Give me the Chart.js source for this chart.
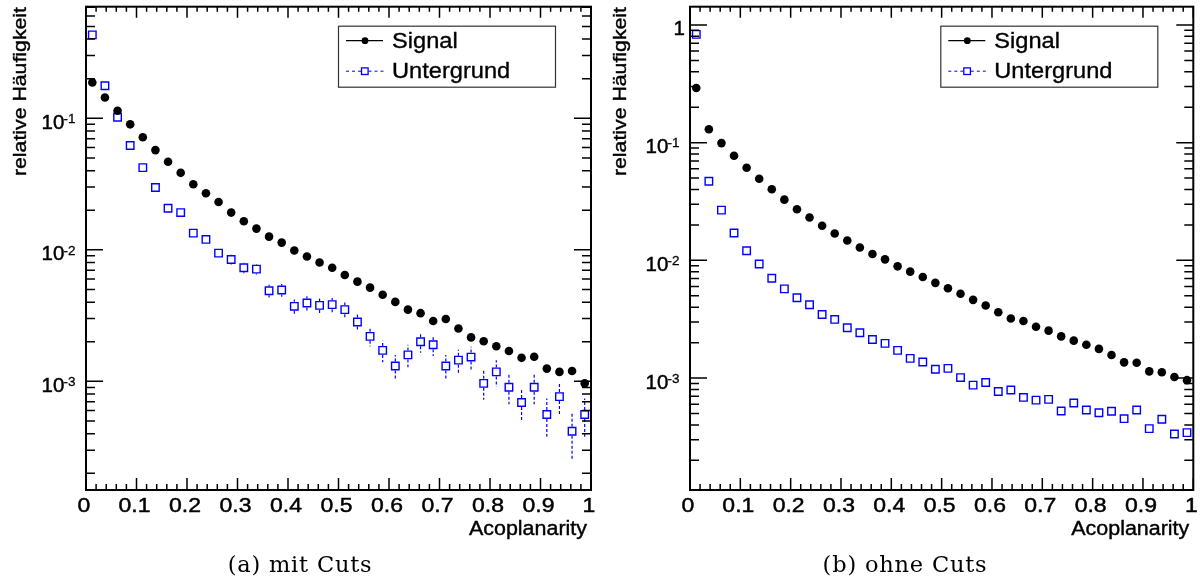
<!DOCTYPE html>
<html>
<head>
<meta charset="utf-8">
<title>Acoplanarity</title>
<script src="https://cdn.jsdelivr.net/npm/chart.js@4.4.1/dist/chart.umd.min.js"></script>
<style>
  body { margin: 0; background: #fff; }
  #wrap { position: relative; width: 1200px; height: 585px; }
  canvas { position: absolute; top: 0; }
  #plotCuts { left: 0; }
  #plotAll { left: 600px; }
</style>
</head>
<body>
<div id="wrap">
  <canvas id="plotCuts" width="600" height="585"></canvas>
  <canvas id="plotAll" width="600" height="585"></canvas>
</div>
<script>
// bin centres, 40 bins between 0 and 1
const binCenters = [
  0.0125, 0.0375, 0.0625, 0.0875, 0.1125, 0.1375, 0.1625, 0.1875, 0.2125, 0.2375,
  0.2625, 0.2875, 0.3125, 0.3375, 0.3625, 0.3875, 0.4125, 0.4375, 0.4625, 0.4875,
  0.5125, 0.5375, 0.5625, 0.5875, 0.6125, 0.6375, 0.6625, 0.6875, 0.7125, 0.7375,
  0.7625, 0.7875, 0.8125, 0.8375, 0.8625, 0.8875, 0.9125, 0.9375, 0.9625, 0.9875
];

// (a) mit Cuts
const signalCuts = [
  0.187, 0.144, 0.114, 0.090, 0.0718, 0.0573, 0.0467, 0.0385, 0.0315, 0.0269,
  0.0231, 0.0192, 0.0165, 0.0145, 0.0126, 0.01135, 0.00988, 0.00889, 0.00801, 0.00731,
  0.00643, 0.00573, 0.00516, 0.00456, 0.00402, 0.00351, 0.00330, 0.00288, 0.00298, 0.00252,
  0.00216, 0.00202, 0.00185, 0.00170, 0.00151, 0.00154, 0.00125, 0.00118, 0.00120, 0.000966
];
const backgroundCuts = [
  0.431, 0.177, 0.102, 0.0621, 0.0422, 0.0298, 0.0207, 0.0192, 0.0134, 0.0120,
  0.00944, 0.00845, 0.00731, 0.00714, 0.00489, 0.00495, 0.00372, 0.00394, 0.00378, 0.00383,
  0.00351, 0.00283, 0.00220, 0.00172, 0.00131, 0.00159, 0.00200, 0.00190, 0.00131, 0.00145,
  0.00153, 0.000966, 0.00118, 0.000901, 0.000690, 0.000901, 0.000560, 0.000766, 0.000418, 0.000560
];
const backgroundCutsErr = [
  0.0051, 0.0033, 0.0025, 0.0019, 0.0016, 0.0013, 0.0011, 0.0011, 0.0009, 0.00085,
  0.00075, 0.00071, 0.00066, 0.00065, 0.00054, 0.00055, 0.00047, 0.00049, 0.00048, 0.00048,
  0.00046, 0.00041, 0.00036, 0.00032, 0.00028, 0.00031, 0.00035, 0.00034, 0.00028, 0.00029,
  0.00030, 0.00024, 0.00027, 0.00023, 0.00020, 0.00023, 0.00018, 0.00021, 0.00016, 0.00018
];

// (b) ohne Cuts
const signalAll = [
  0.291, 0.130, 0.0991, 0.0773, 0.0612, 0.0494, 0.0402, 0.0328, 0.0272, 0.0231,
  0.0197, 0.0169, 0.01476, 0.01288, 0.01133, 0.01020, 0.00890, 0.00802, 0.00723, 0.00644,
  0.00580, 0.00520, 0.00462, 0.00414, 0.00363, 0.00321, 0.00305, 0.00273, 0.00253, 0.00226,
  0.00208, 0.00192, 0.00177, 0.00157, 0.00136, 0.00135, 0.00114, 0.00112, 0.00102, 0.00096
];
const backgroundAll = [
  0.832, 0.0470, 0.0267, 0.0171, 0.01208, 0.00932, 0.00704, 0.00573, 0.00481, 0.00420,
  0.00347, 0.00315, 0.00268, 0.00243, 0.00213, 0.00197, 0.00172, 0.00147, 0.00137, 0.00119,
  0.00121, 0.00101, 0.000871, 0.000918, 0.000770, 0.000791, 0.000685, 0.000650, 0.000659, 0.000525,
  0.000614, 0.000535, 0.000508, 0.000522, 0.000452, 0.000535, 0.000372, 0.000447, 0.000335, 0.000344
];

// axis labels
const xTickValues = [0, 0.1, 0.2, 0.3, 0.4, 0.5, 0.6, 0.7, 0.8, 0.9, 1];
const xTickLabels = ['0', '0.1', '0.2', '0.3', '0.4', '0.5', '0.6', '0.7', '0.8', '0.9', '1'];
const yDecadesCuts = [0.1, 0.01, 0.001];
const yDecadesAll = [1, 0.1, 0.01, 0.001];
const seriesNames = ['Signal', 'Untergrund'];
const xTitle = 'Acoplanarity';
const yTitle = 'relative Häufigkeit';

const SANS = '"Liberation Sans", Arial, sans-serif';
const SERIF = '"DejaVu Serif", serif';
const BLUE = '#0000ff';

// text with optional horizontal stretch (the ROOT fonts run wide) and a
// thin outline to give the glyphs a little more weight
function drawText(ctx, text, x, y, font, align, stretch, spacing, weight) {
  ctx.save();
  ctx.font = font;
  ctx.textAlign = 'left';
  ctx.textBaseline = 'alphabetic';
  ctx.letterSpacing = (spacing || 0) + 'px';
  const w = ctx.measureText(text).width * stretch;
  let x0 = x;
  if (align === 'center') x0 = x - w / 2;
  if (align === 'right') x0 = x - w;
  ctx.translate(x0, y);
  ctx.scale(stretch, 1);
  ctx.fillText(text, 0, 0);
  if (weight) {
    ctx.lineWidth = weight;
    ctx.strokeStyle = ctx.fillStyle;
    ctx.strokeText(text, 0, 0);
  }
  ctx.restore();
}

const rootFrame = {
  id: 'rootFrame',
  beforeDatasetsDraw(chart, args, opts) {
    // dashed statistical error bars, left out inside the marker
    if (!opts.errors) return;
    const { ctx, chartArea: a, scales: { y } } = chart;
    const meta = chart.getDatasetMeta(1);
    const vals = chart.data.datasets[1].data;
    ctx.save();
    ctx.strokeStyle = BLUE;
    ctx.lineWidth = 1.2;
    ctx.setLineDash([3, 2]);
    ctx.beginPath();
    meta.data.forEach((pt, i) => {
      const v = vals[i].y, e = opts.errors[i];
      const yTop = Math.max(a.top, y.getPixelForValue(v + e));
      const yBot = Math.min(a.bottom, y.getPixelForValue(v - e));
      const half = 4.5;
      if (yTop < pt.y - half) { ctx.moveTo(pt.x, pt.y - half); ctx.lineTo(pt.x, yTop); }
      if (yBot > pt.y + half) { ctx.moveTo(pt.x, pt.y + half); ctx.lineTo(pt.x, yBot); }
    });
    ctx.stroke();
    ctx.restore();
  },
  afterDatasetsDraw(chart, args, opts) {
    const { ctx, chartArea: a, scales: { x, y } } = chart;
    ctx.save();
    ctx.strokeStyle = '#000';
    ctx.fillStyle = '#000';

    // tick marks pointing inwards on all four sides
    ctx.lineWidth = 1.5;
    ctx.beginPath();
    for (let i = 0; i <= 50; i++) {
      const px = x.getPixelForValue(i / 50);
      const major = i % 5 === 0;
      ctx.moveTo(px, a.bottom); ctx.lineTo(px, a.bottom - (major ? 12 : 6));
      ctx.moveTo(px, a.top); ctx.lineTo(px, a.top + (major ? 11 : 5));
    }
    for (let e = -5; e <= 1; e++) {
      for (let m = 1; m <= 9; m++) {
        const v = m * Math.pow(10, e);
        if (v < y.min || v > y.max) continue;
        const py = y.getPixelForValue(v);
        const len = m === 1 ? 17 : 9;
        ctx.moveTo(a.left, py); ctx.lineTo(a.left + len, py);
        ctx.moveTo(a.right, py); ctx.lineTo(a.right - len, py);
      }
    }
    ctx.stroke();

    ctx.lineWidth = 2;
    ctx.strokeRect(a.left, a.top, a.right - a.left, a.bottom - a.top);

    // x tick labels and title
    xTickValues.forEach((v, i) => {
      drawText(ctx, xTickLabels[i], x.getPixelForValue(v) - 2, a.bottom + 22,
        '19.5px ' + SANS, 'center', 1.18, 0, 0.45);
    });
    drawText(ctx, xTitle, a.right - 4, a.bottom + 44.5, '19.5px ' + SANS, 'right', 1.1, 0, 0.4);

    // y tick labels as powers of ten
    opts.decades.forEach(v => {
      const py = y.getPixelForValue(v);
      const exp = Math.round(Math.log10(v));
      if (exp === 0) {
        drawText(ctx, '1', a.left - 5, py + 10.3, '20.5px ' + SANS, 'right', 1, 0, 0.45);
      } else {
        drawText(ctx, '10', a.left - 44.5, py + 10.5, '20.5px ' + SANS, 'left', 1, 0, 0.45);
        drawText(ctx, String(exp), a.left - 22.5, py + 4.7, '13.5px ' + SANS, 'left', 1, 0, 0.3);
      }
    });

    // rotated y title, ending near the top of the frame
    ctx.save();
    ctx.translate(26, 7);
    ctx.rotate(-Math.PI / 2);
    drawText(ctx, yTitle, 0, 0, '18.5px ' + SANS, 'right', 1.15, 0, 0.4);
    ctx.restore();

    // legend box
    const lx = a.right - 253, ly = a.top + 19, lw = 217, lh = 61;
    ctx.fillStyle = '#fff';
    ctx.fillRect(lx, ly, lw, lh);
    ctx.strokeStyle = '#333';
    ctx.lineWidth = 1.2;
    ctx.strokeRect(lx + 0.5, ly + 0.5, lw, lh);

    ctx.strokeStyle = '#000';
    ctx.fillStyle = '#000';
    ctx.lineWidth = 1.3;
    ctx.beginPath();
    ctx.moveTo(lx + 8, ly + 15); ctx.lineTo(lx + 45, ly + 15);
    ctx.stroke();
    ctx.beginPath();
    ctx.arc(lx + 27, ly + 15, 3.4, 0, Math.PI * 2);
    ctx.fill();
    drawText(ctx, chart.data.datasets[0].label, lx + 54, ly + 21.8, '22.5px ' + SANS, 'left', 1.05, 0, 0.35);

    const uy = ly + 45.5;
    ctx.strokeStyle = BLUE;
    ctx.lineWidth = 1;
    ctx.setLineDash([3, 3]);
    ctx.beginPath();
    ctx.moveTo(lx + 8, uy); ctx.lineTo(lx + 23.5, uy);
    ctx.moveTo(lx + 30.5, uy); ctx.lineTo(lx + 46, uy);
    ctx.stroke();
    ctx.setLineDash([]);
    ctx.lineWidth = 1.3;
    ctx.strokeRect(lx + 23.5, uy - 3.3, 6.6, 6.6);
    ctx.fillStyle = '#000';
    drawText(ctx, chart.data.datasets[1].label, lx + 54, ly + 52.3, '22.5px ' + SANS, 'left', 1.05, 0, 0.35);

    // sub-figure caption
    drawText(ctx, opts.caption, opts.captionX, 572, '22.5px ' + SERIF, 'center', 1, 0.8);
    ctx.restore();
  }
};

function makeChart(id, sig, bkg, opts) {
  const toPoints = arr => binCenters.map((x, i) => ({ x: x, y: arr[i] }));
  return new Chart(document.getElementById(id), {
    type: 'scatter',
    data: {
      datasets: [
        {
          label: seriesNames[0],
          data: toPoints(sig),
          pointStyle: 'circle',
          pointRadius: 4.3,
          backgroundColor: '#000',
          borderWidth: 0,
          clip: false
        },
        {
          label: seriesNames[1],
          data: toPoints(bkg),
          pointStyle: 'rect',
          pointRadius: 5.3,
          backgroundColor: 'rgba(255,255,255,0)',
          borderColor: BLUE,
          borderWidth: 1.4,
          clip: false
        }
      ]
    },
    options: {
      responsive: false,
      animation: false,
      events: [],
      layout: { padding: opts.padding },
      scales: {
        x: { type: 'linear', min: 0, max: 1, display: false },
        y: { type: 'logarithmic', min: opts.yMin, max: opts.yMax, display: false }
      },
      plugins: {
        legend: { display: false },
        tooltip: { enabled: false },
        rootFrame: {
          decades: opts.decades,
          errors: opts.errors,
          caption: opts.caption,
          captionX: opts.captionX
        }
      }
    },
    plugins: [rootFrame]
  });
}

makeChart('plotCuts', signalCuts, backgroundCuts, {
  padding: { left: 86, right: 9, top: 5, bottom: 95 },
  yMin: 1.493e-4, yMax: 0.7056,
  decades: yDecadesCuts,
  errors: backgroundCutsErr,
  caption: '(a) mit Cuts',
  captionX: 300
});

makeChart('plotAll', signalAll, backgroundAll, {
  padding: { left: 90, right: 5, top: 5, bottom: 95 },
  yMin: 1.12e-4, yMax: 1.429,
  decades: yDecadesAll,
  errors: null,
  caption: '(b) ohne Cuts',
  captionX: 305
});
</script>
</body>
</html>
